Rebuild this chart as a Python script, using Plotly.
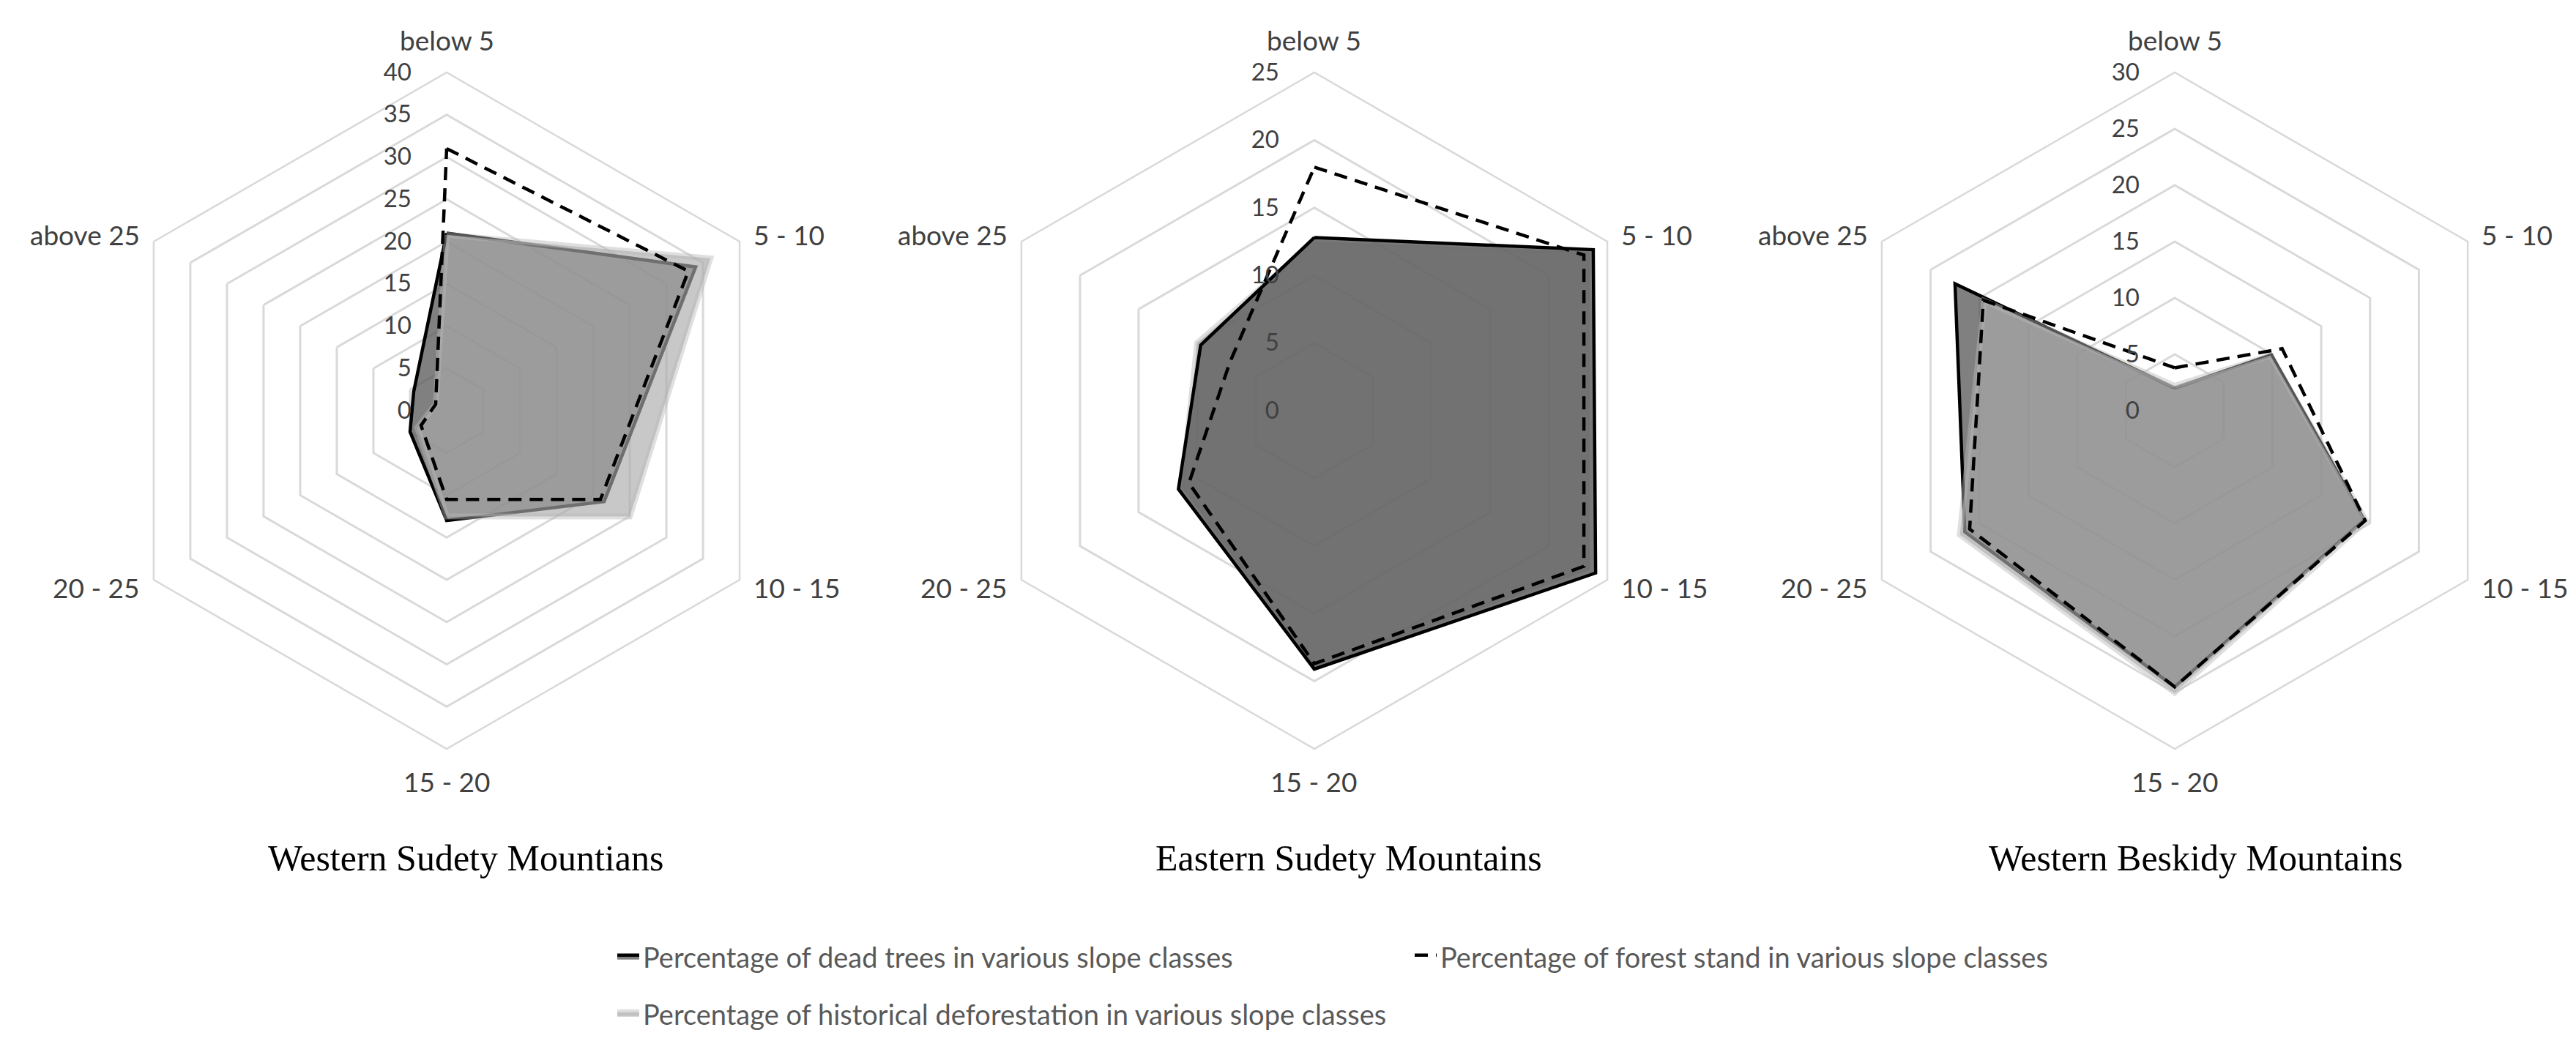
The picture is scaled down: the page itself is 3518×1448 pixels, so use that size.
import math
import plotly.graph_objects as go

# slope classes (angular categories)
categories = ["below 5", "5 - 10", "10 - 15", "15 - 20", "20 - 25", "above 25"]
regions = ["Western Sudety Mountians", "Eastern Sudety Mountains", "Western Beskidy Mountains"]
axis_max = [40, 25, 30]

series_names = [
    "Percentage of dead trees in various slope classes",
    "Percentage of forest stand in various slope classes",
    "Percentage of historical deforestation in various slope classes",
]

# Western Sudety
dead_ws = [21, 34, 21.5, 13, 5, 4.5]
forest_ws = [31, 33, 21, 10.5, 3.5, 1.5]
hist_ws = [20.8, 36, 25, 12.5, 4, 1.5]

# Eastern Sudety
dead_es = [12.8, 23.8, 24, 19.1, 11.6, 9.7]
forest_es = [18, 23, 23, 18.7, 10.7, 7.2]
hist_es = [12.5, 23.5, 23.5, 19, 11.3, 10]

# Western Beskidy
dead_wb = [2, 9.9, 19.4, 24.5, 21.5, 22.5]
forest_wb = [3.8, 11, 19.5, 24.5, 21, 19.6]
hist_wb = [2.2, 9.8, 19.6, 25, 22, 19.5]

data = [
    (dead_ws, forest_ws, hist_ws),
    (dead_es, forest_es, hist_es),
    (dead_wb, forest_wb, hist_wb),
]

FONT = "Lato"
GRID = "#d9d9d9"


def closed(vals):
    return list(vals) + [vals[0]], categories + [categories[0]]


fig = go.Figure()

for i, (dead, forest, hist) in enumerate(data):
    polar = "polar" if i == 0 else f"polar{i + 1}"
    first = i == 0

    r, th = closed(dead)
    dead_tr = go.Scatterpolar(
        r=r, theta=th, subplot=polar, name=series_names[0],
        mode="lines", fill="toself", fillcolor="rgba(86,86,86,0.75)",
        line=dict(color="black", width=4.5),
        showlegend=first, legend="legend", hoverinfo="skip",
    )

    r, th = closed(hist)
    hist_tr = go.Scatterpolar(
        r=r, theta=th, subplot=polar, name=series_names[2],
        mode="lines", fill="toself", fillcolor="rgba(171,171,171,0.65)",
        line=dict(color="rgba(185,185,185,0.45)", width=8),
        showlegend=first, legend="legend3", hoverinfo="skip",
    )

    r, th = closed(forest)
    forest_tr = go.Scatterpolar(
        r=r, theta=th, subplot=polar, name=series_names[1],
        mode="lines", fill="toself", fillcolor="rgba(255,255,255,0)",
        line=dict(color="black", width=4.5, dash="18px,11px"),
        showlegend=first, legend="legend2", hoverinfo="skip",
    )

    # eastern sudety: deforestation layer sits beneath the dead trees layer
    if i == 1:
        fig.add_traces([hist_tr, dead_tr, forest_tr])
    else:
        fig.add_traces([dead_tr, hist_tr, forest_tr])

W, H = 3518, 1448
centers = [602, 1787, 2962]
cy = 553
R = 462

for i, cx in enumerate(centers):
    key = "polar" if i == 0 else f"polar{i + 1}"
    fig.layout[key] = dict(
        domain=dict(x=[(cx - R) / W, (cx + R) / W], y=[1 - (cy + R) / H, 1 - (cy - R) / H]),
        gridshape="linear",
        bgcolor="white",
        angularaxis=dict(
            direction="clockwise", rotation=90, showgrid=False,
            showline=True, linecolor=GRID, linewidth=2.5,
            ticks="", showticklabels=False,
            categoryorder="array", categoryarray=categories,
        ),
        radialaxis=dict(
            range=[0, axis_max[i]], dtick=5, angle=90, side="counterclockwise",
            showline=False, gridcolor=GRID, gridwidth=2.5,
            ticks="outside", ticklen=36, tickcolor="rgba(0,0,0,0)",
            tickangle=90, tickfont=dict(family=FONT, size=33, color="#404040"),
        ),
    )

    # slope class labels around the hexagon (Excel-like placement)
    for k, cat in enumerate(categories):
        a = math.radians(90 - 60 * k)
        ca, sa = math.cos(a), math.sin(a)
        d = 20 if abs(ca) > 0.1 else 44
        px = cx + (R + d) * ca
        py = cy - (R + d) * sa
        xa = "left" if ca > 0.1 else ("right" if ca < -0.1 else "center")
        fig.add_annotation(
            x=px / W, y=1 - py / H, xref="paper", yref="paper",
            xanchor=xa, yanchor="middle", text=cat, showarrow=False,
            font=dict(family=FONT, size=37, color="#404040"),
        )

title_x = [628, 1834, 2990]
for name, tx in zip(regions, title_x):
    fig.add_annotation(
        x=tx / W, y=1 - 1164 / H, xref="paper", yref="paper",
        xanchor="center", yanchor="middle",
        text=name, showarrow=False,
        font=dict(family="Liberation Serif", size=50, color="black"),
    )

leg = dict(font=dict(family=FONT, size=38, color="#595959"), bgcolor="rgba(0,0,0,0)",
           xanchor="left", yanchor="middle", orientation="h")
fig.update_layout(
    width=W, height=H,
    margin=dict(l=0, r=0, t=0, b=0),
    paper_bgcolor="white",
    legend=dict(leg, x=830 / W, y=1 - 1299 / H),
    legend2=dict(leg, x=1919 / W, y=1 - 1299 / H),
    legend3=dict(leg, x=830 / W, y=1 - 1377 / H),
)

fig.write_html("out.html")
